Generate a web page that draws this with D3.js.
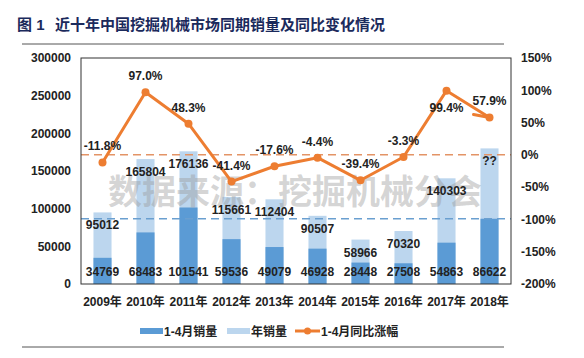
<!DOCTYPE html>
<html>
<head>
<meta charset="utf-8">
<script src="https://cdn.jsdelivr.net/npm/d3@7"></script>
<style>
body { margin: 0; background: #fff; }
text { font-family: "Liberation Sans", Arial, "Noto Sans CJK SC", sans-serif; }
.cjk { font-family: "Liberation Sans", "Noto Sans CJK SC", sans-serif; }
</style>
</head>
<body>
<script>
// data
var years = ['2009年', '2010年', '2011年', '2012年', '2013年', '2014年', '2015年', '2016年', '2017年', '2018年'];
var janAprSales = [34769, 68483, 101541, 59536, 49079, 46928, 28448, 27508, 54863, 86622];
var yearSales = [95012, 165804, 176136, 115661, 112404, 90507, 58966, 70320, 140303, 180000];
var yearLabels = ['95012', '165804', '176136', '115661', '112404', '90507', '58966', '70320', '140303', '??'];
var yoyChange = [-11.8, 97.0, 48.3, -41.4, -17.6, -4.4, -39.4, -3.3, 99.4, 57.9];
var leftTicks = [0, 50000, 100000, 150000, 200000, 250000, 300000];
var rightTicks = [-200, -150, -100, -50, 0, 50, 100, 150];

var W = 584, H = 358;
var plot = { left: 81, right: 511, top: 58, bottom: 284 };

var svg = d3.select('body').append('svg')
	.attr('width', W)
	.attr('height', H);

// title + rules
svg.append('text')
	.attr('x', 17).attr('y', 30)
	.attr('class', 'cjk')
	.attr('font-size', 15).attr('font-weight', 'bold')
	.attr('fill', '#1b2a5c')
	.text('图 1');
svg.append('text')
	.attr('x', 55).attr('y', 30)
	.attr('class', 'cjk')
	.attr('font-size', 15).attr('font-weight', 'bold')
	.attr('fill', '#1b2a5c')
	.text('近十年中国挖掘机械市场同期销量及同比变化情况');
svg.append('line')
	.attr('x1', 22).attr('x2', 504).attr('y1', 44).attr('y2', 44)
	.attr('stroke', '#555').attr('stroke-width', 1);
svg.append('line')
	.attr('x1', 22).attr('x2', 504).attr('y1', 347).attr('y2', 347)
	.attr('stroke', '#555').attr('stroke-width', 1);

var x = d3.scaleBand()
	.domain(years)
	.range([plot.left, plot.right])
	.paddingInner(0.58)
	.paddingOuter(0.29);
var xc = function(d) { return x(d) + x.bandwidth() / 2; };

var yL = d3.scaleLinear().domain([0, 300000]).range([plot.bottom, plot.top]);
var yR = d3.scaleLinear().domain([-200, 150]).range([plot.bottom, plot.top]);

// bars: year totals behind, Jan-Apr in front
svg.selectAll('.yearbar')
	.data(years)
	.enter().append('rect')
	.attr('class', 'yearbar')
	.attr('x', function(d) { return x(d); })
	.attr('width', x.bandwidth())
	.attr('y', function(d, i) { return yL(yearSales[i]); })
	.attr('height', function(d, i) { return yL(0) - yL(yearSales[i]); })
	.attr('fill', '#bcd6ee');

svg.selectAll('.janbar')
	.data(years)
	.enter().append('rect')
	.attr('class', 'janbar')
	.attr('x', function(d) { return x(d); })
	.attr('width', x.bandwidth())
	.attr('y', function(d, i) { return yL(janAprSales[i]); })
	.attr('height', function(d, i) { return yL(0) - yL(janAprSales[i]); })
	.attr('fill', '#5b9bd5');

// watermark
svg.append('text')
	.attr('x', 295).attr('y', 204)
	.attr('class', 'cjk')
	.attr('text-anchor', 'middle')
	.attr('font-size', 34).attr('font-weight', 'bold')
	.attr('fill', '#9a9a9a').attr('fill-opacity', 0.42)
	.text('数据来源：挖掘机械分会');

// dashed reference lines
svg.append('line')
	.attr('x1', plot.left).attr('x2', plot.right)
	.attr('y1', yR(0)).attr('y2', yR(0))
	.attr('stroke', '#e39466').attr('stroke-width', 1.5)
	.attr('stroke-dasharray', '8,5');
svg.append('line')
	.attr('x1', plot.left).attr('x2', plot.right)
	.attr('y1', yL(86622)).attr('y2', yL(86622))
	.attr('stroke', '#6a9fd0').attr('stroke-width', 1.5)
	.attr('stroke-dasharray', '8,5');

// plot border
svg.append('rect')
	.attr('x', plot.left).attr('y', plot.top)
	.attr('width', plot.right - plot.left).attr('height', plot.bottom - plot.top)
	.attr('fill', 'none').attr('stroke', '#333').attr('stroke-width', 1);

// bar labels
svg.selectAll('.ylab')
	.data(years)
	.enter().append('text')
	.attr('class', 'ylab')
	.attr('x', xc)
	.attr('y', function(d, i) { return yL(yearSales[i]) + 17; })
	.attr('text-anchor', 'middle')
	.attr('font-size', 12).attr('font-weight', 'bold').attr('fill', '#222')
	.text(function(d, i) { return yearLabels[i]; });

svg.selectAll('.jlab')
	.data(years)
	.enter().append('text')
	.attr('class', 'jlab')
	.attr('x', xc)
	.attr('y', 276)
	.attr('text-anchor', 'middle')
	.attr('font-size', 12).attr('font-weight', 'bold').attr('fill', '#222')
	.text(function(d, i) { return janAprSales[i]; });

// line
var line = d3.line()
	.x(function(d, i) { return xc(years[i]); })
	.y(function(d) { return yR(d); });

svg.append('path')
	.datum(yoyChange)
	.attr('d', line)
	.attr('fill', 'none')
	.attr('stroke', '#ed7d31')
	.attr('stroke-width', 3)
	.attr('stroke-linejoin', 'round');

svg.selectAll('.pt')
	.data(yoyChange)
	.enter().append('circle')
	.attr('class', 'pt')
	.attr('cx', function(d, i) { return xc(years[i]); })
	.attr('cy', function(d) { return yR(d); })
	.attr('r', 4)
	.attr('fill', '#ed7d31');

// little dash next to the last point (arrow look)
var lx = xc(years[9]), ly = yR(yoyChange[9]);
svg.append('path')
	.attr('d', 'M' + (lx - 16) + ',' + (ly - 3) + 'L' + lx + ',' + ly)
	.attr('fill', 'none').attr('stroke', '#ed7d31').attr('stroke-width', 3)
	.attr('stroke-linecap', 'round');

// percent labels (2017 sits below its point)
svg.selectAll('.plab')
	.data(yoyChange)
	.enter().append('text')
	.attr('class', 'plab')
	.attr('x', function(d, i) { return xc(years[i]); })
	.attr('y', function(d, i) { return i == 8 ? yR(d) + 21 : yR(d) - 12; })
	.attr('text-anchor', 'middle')
	.attr('font-size', 12).attr('font-weight', 'bold').attr('fill', '#222')
	.text(function(d) { return d.toFixed(1) + '%'; });

// axes
var axL = svg.append('g')
	.attr('transform', 'translate(' + plot.left + ',0)')
	.call(d3.axisLeft(yL).tickValues(leftTicks).tickSize(0).tickPadding(10).tickFormat(d3.format('d')));
var axR = svg.append('g')
	.attr('transform', 'translate(' + plot.right + ',0)')
	.call(d3.axisRight(yR).tickValues(rightTicks).tickSize(0).tickPadding(10).tickFormat(function(d) { return d + '%'; }));
var axB = svg.append('g')
	.attr('transform', 'translate(0,' + plot.bottom + ')')
	.call(d3.axisBottom(x).tickSize(0).tickPadding(13));

[axL, axR, axB].forEach(function(ax) {
	ax.select('.domain').remove();
	ax.selectAll('text')
		.attr('font-size', 12).attr('font-weight', 'bold').attr('fill', '#222')
		.style('font-family', '"Liberation Sans", Arial, "Noto Sans CJK SC", sans-serif');
});

// legend
var legend = svg.append('g').attr('class', 'legend');
legend.append('rect').attr('x', 140).attr('y', 328).attr('width', 23).attr('height', 6).attr('fill', '#5b9bd5');
legend.append('text').attr('x', 164).attr('y', 336).attr('class', 'cjk')
	.attr('font-size', 12).attr('font-weight', 'bold').attr('fill', '#222').text('1-4月销量');
legend.append('rect').attr('x', 227).attr('y', 328).attr('width', 23).attr('height', 6).attr('fill', '#bcd6ee');
legend.append('text').attr('x', 251).attr('y', 336).attr('class', 'cjk')
	.attr('font-size', 12).attr('font-weight', 'bold').attr('fill', '#222').text('年销量');
legend.append('line').attr('x1', 295).attr('x2', 320).attr('y1', 331).attr('y2', 331)
	.attr('stroke', '#ed7d31').attr('stroke-width', 3);
legend.append('circle').attr('cx', 307.5).attr('cy', 331).attr('r', 3.5).attr('fill', '#ed7d31');
legend.append('text').attr('x', 321).attr('y', 336).attr('class', 'cjk')
	.attr('font-size', 12).attr('font-weight', 'bold').attr('fill', '#222').text('1-4月同比涨幅');
</script>
</body>
</html>
